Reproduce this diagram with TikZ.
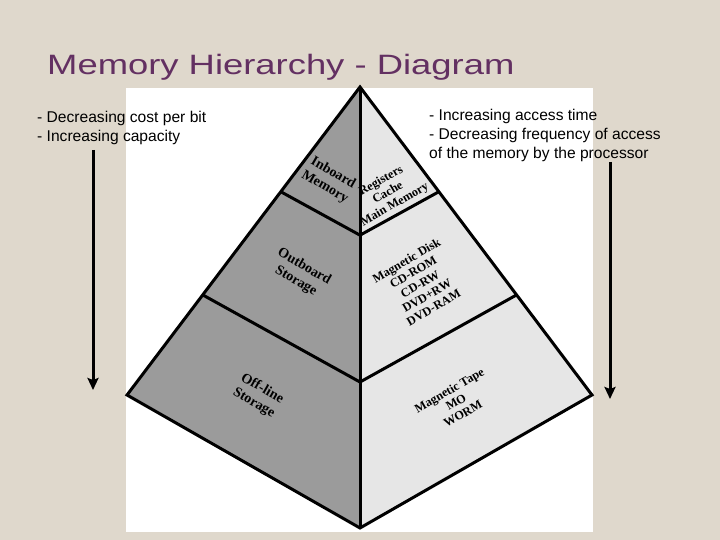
\documentclass[tikz,border=0pt]{standalone}
\usepackage{fontspec}
\setmainfont{Liberation Sans}
\newfontfamily\titlefont[FakeStretch=1.3]{Liberation Sans}
\newfontfamily\pyrfont{Liberation Serif}
\usetikzlibrary{arrows.meta,calc}
\definecolor{MemPaper}{HTML}{DFD8CC}
\definecolor{MemPurple}{HTML}{633062}
\definecolor{MemDark}{HTML}{9B9B9B}
\definecolor{MemLight}{HTML}{E6E6E6}

\begin{document}
\begin{tikzpicture}[x=1pt,y=-1pt,
  edge/.style={line width=3pt,line join=miter},
  flow/.style={line width=3pt,-{Stealth[length=12pt,width=11pt,inset=2pt]}},
  note/.style={font=\fontsize{15.6}{19}\selectfont,align=left,anchor=north west,inner sep=0pt},
  lvl/.style={font=\pyrfont\bfseries\fontsize{14}{16.5}\selectfont,align=center,inner sep=0pt},
  kind/.style={font=\pyrfont\bfseries\fontsize{12.3}{13.6}\selectfont,align=center,inner sep=0pt}]
\useasboundingbox (0,0) rectangle (720,540);
\fill[MemPaper] (0,0) rectangle (720,540);
\fill[white] (126,88) rectangle (593,532);
\coordinate (apex) at (360,87);
\coordinate (lft) at (127,395);
\coordinate (rgt) at (592,395);
\coordinate (bot) at (360,528);
\fill[MemDark] (apex)--(lft)--(bot)--cycle;
\fill[MemLight] (apex)--(rgt)--(bot)--cycle;
\coordinate (l1) at ($(apex)!0.34!(lft)$);
\coordinate (r1) at ($(apex)!0.34!(rgt)$);
\coordinate (c1) at ($(apex)!0.336!(bot)$);
\coordinate (l2) at ($(apex)!0.675!(lft)$);
\coordinate (r2) at ($(apex)!0.675!(rgt)$);
\coordinate (c2) at ($(apex)!0.669!(bot)$);
\draw[edge] (apex)--(lft)--(bot)--(rgt)--cycle;
\draw[edge] (apex)--(bot);
\draw[edge] (l1)--(c1)--(r1);
\draw[edge] (l2)--(c2)--(r2);
\node[lvl,rotate=-30] (inboard) at (329,180) {Inboard\\Memory};
\node[kind,rotate=30] (inboardkind) at (388,193) {Registers\\Cache\\Main Memory};
\node[lvl,rotate=-30] (outboard) at (300,274) {Outboard\\Storage};
\node[kind,rotate=30] (outboardkind) at (420,284) {Magnetic Disk\\CD-ROM\\CD-RW\\DVD+RW\\DVD-RAM};
\node[lvl,rotate=-30] (offline) at (258,396) {Off-line\\Storage};
\node[kind,rotate=30] (offlinekind) at (456,402) {Magnetic Tape\\MO\\WORM};
\node[anchor=base west,inner sep=0pt,text=MemPurple,font=\titlefont\fontsize{28}{33}\selectfont] (title) at (47,75) {Memory Hierarchy - Diagram};
\node[note] (costnote) at (37,111) {- Decreasing cost per bit\\- Increasing capacity};
\node[note] (timenote) at (429,109) {- Increasing access time\\- Decreasing frequency of access\\of the memory by the processor};
\coordinate (costtop) at (93,150);
\coordinate (costend) at (93,390);
\coordinate (timetop) at (610,162);
\coordinate (timeend) at (610,399);
\draw[flow] (costtop)--(costend);
\draw[flow] (timetop)--(timeend);
\end{tikzpicture}
\end{document}
